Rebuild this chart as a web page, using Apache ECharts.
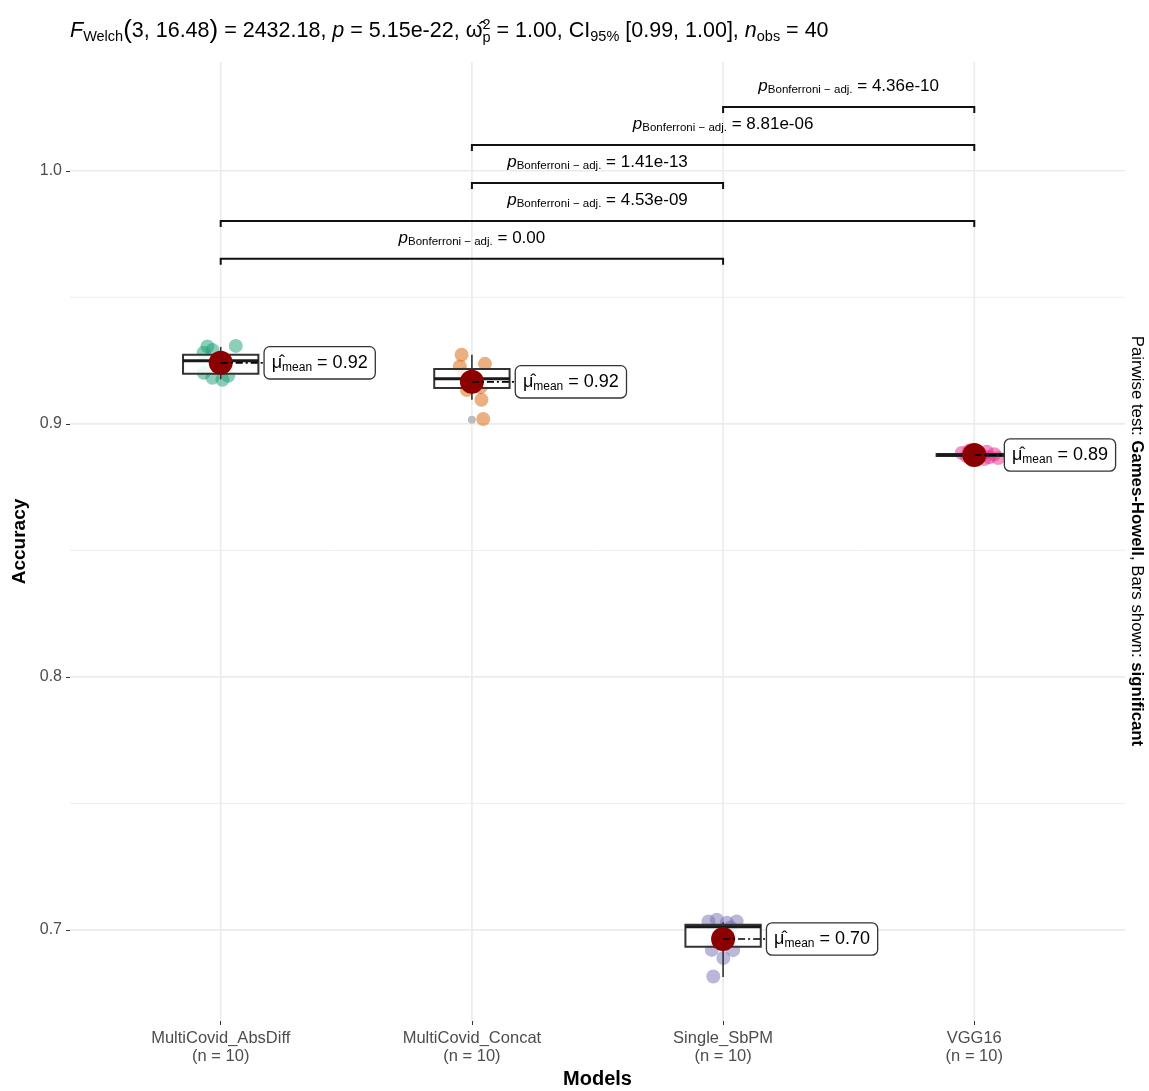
<!DOCTYPE html>
<html>
<head>
<meta charset="utf-8">
<script src="https://cdn.jsdelivr.net/npm/echarts@6/dist/echarts.min.js"></script>
<style>
html,body{margin:0;padding:0;background:#ffffff;}
#c{width:1149px;height:1091px;}
</style>
</head>
<body>
<div id="c"></div>
<script>
// ---------------- data ----------------
const categories = ['MultiCovid_AbsDiff', 'MultiCovid_Concat', 'Single_SbPM', 'VGG16'];
const groupN = [10, 10, 10, 10];
const yTicks = [0.7, 0.8, 0.9, 1.0];
const yMinor = [0.75, 0.85, 0.95];

const absDiffValues = [0.9306, 0.9308, 0.9281, 0.9292, 0.9235, 0.9230, 0.9202, 0.9190, 0.9182, 0.9174];
const absDiffJitter = [-0.053, 0.060, -0.068, -0.033, 0.020, -0.015, -0.068, 0.030, -0.033, 0.007];
const concatValues = [0.9273, 0.9237, 0.9227, 0.9195, 0.9175, 0.9160, 0.9145, 0.9134, 0.9095, 0.9019];
const concatJitter = [-0.041, 0.052, -0.048, -0.030, 0.020, -0.010, 0.035, -0.020, 0.038, 0.045];
const sbpmValues = [0.7040, 0.7033, 0.7033, 0.7028, 0.7010, 0.6950, 0.6921, 0.6920, 0.6889, 0.6816];
const sbpmJitter = [-0.025, -0.058, 0.054, 0.015, 0.030, -0.020, -0.045, 0.040, 0.001, -0.039];
const vggValues = [0.8895, 0.8890, 0.8885, 0.8880, 0.8878, 0.8876, 0.8872, 0.8868, 0.8865, 0.8861];
const vggJitter = [-0.020, 0.050, -0.050, 0.080, 0.000, 0.030, -0.030, 0.060, 0.095, 0.040];

const boxLow = [0.9176, 0.9095, 0.6814, 0.8866];
const boxQ1 = [0.9198, 0.9142, 0.6933, 0.8873];
const boxMedian = [0.9249, 0.9178, 0.7012, 0.8877];
const boxQ3 = [0.9273, 0.9217, 0.7020, 0.8881];
const boxHigh = [0.9304, 0.9273, 0.7030, 0.8890];

const outlierGroup = [1];
const outlierValues = [0.9016];

const means = [0.9241, 0.9166, 0.6964, 0.8877];
const meanLabels = ['0.92', '0.92', '0.70', '0.89'];

const sigStart = [0, 0, 1, 1, 2];
const sigEnd = [2, 3, 2, 3, 3];
const sigY = [0.9652, 0.9802, 0.9952, 1.0102, 1.0252];
const sigP = ['0.00', '4.53e-09', '1.41e-13', '8.81e-06', '4.36e-10'];

// ---------------- styling helpers ----------------
const FONT = '"Liberation Sans", Arial, sans-serif';
function rs(size, extra) {
  return Object.assign({ fontFamily: FONT, fontSize: size, color: '#1a1a1a' }, extra || {});
}
const pointColors = ['#1B9E77', '#D95F02', '#7570B3', '#E7298A'];
const groups = [
  { values: absDiffValues, jitter: absDiffJitter },
  { values: concatValues, jitter: concatJitter },
  { values: sbpmValues, jitter: sbpmJitter },
  { values: vggValues, jitter: vggJitter }
];

const chart = echarts.init(document.getElementById('c'), null, { renderer: 'canvas' });
const series = [];

// grid lines (horizontal)
series.push({
  type: 'custom', z: 0, silent: true,
  data: yTicks.map(v => [0, v, 1]).concat(yMinor.map(v => [0, v, 0])),
  renderItem: function (params, api) {
    const cs = params.coordSys;
    const y = api.coord([0, api.value(1)])[1];
    const major = api.value(2) === 1;
    return { type: 'line', shape: { x1: cs.x, y1: y, x2: cs.x + cs.width, y2: y },
      style: { stroke: '#EBEBEB', lineWidth: major ? 1.6 : 0.9 } };
  }
});
// grid lines (vertical)
series.push({
  type: 'custom', z: 0, silent: true,
  data: categories.map((c, i) => [i, 1]),
  renderItem: function (params, api) {
    const cs = params.coordSys;
    const x = api.coord([api.value(0), 1])[0];
    return { type: 'line', shape: { x1: x, y1: cs.y, x2: x, y2: cs.y + cs.height },
      style: { stroke: '#EBEBEB', lineWidth: 1.6 } };
  }
});

// jittered points
groups.forEach((g, gi) => {
  series.push({
    type: 'scatter', z: 2, silent: true, symbolSize: 14,
    itemStyle: { color: pointColors[gi], opacity: 0.5 },
    data: g.values.map((v, i) => [gi + g.jitter[i], v])
  });
});
// outliers
series.push({
  type: 'scatter', z: 2, silent: true, symbolSize: 8,
  itemStyle: { color: '#BDBDBD', opacity: 1 },
  data: outlierGroup.map((g, i) => [g, outlierValues[i]])
});

// boxes
series.push({
  type: 'custom', z: 3, silent: true,
  encode: { x: 0, y: [1, 2, 3, 4, 5] },
  data: categories.map((c, i) => [i, boxLow[i], boxQ1[i], boxMedian[i], boxQ3[i], boxHigh[i]]),
  renderItem: function (params, api) {
    const x = api.value(0);
    const hw = 0.15;
    const lo = api.coord([x, api.value(1)]);
    const q1 = api.coord([x + hw, api.value(2)]);
    const md = api.coord([x, api.value(3)]);
    const q3 = api.coord([x - hw, api.value(4)]);
    const hi = api.coord([x, api.value(5)]);
    const wStyle = { stroke: '#333333', lineWidth: 1.6 };
    return { type: 'group', children: [
      { type: 'line', shape: { x1: md[0], y1: hi[1], x2: md[0], y2: q3[1] }, style: wStyle },
      { type: 'line', shape: { x1: md[0], y1: q1[1], x2: md[0], y2: lo[1] }, style: wStyle },
      { type: 'rect', shape: { x: q3[0], y: q3[1], width: q1[0] - q3[0], height: q1[1] - q3[1] },
        style: { fill: 'rgba(255,255,255,0.85)', stroke: '#333333', lineWidth: 2 } },
      { type: 'line', shape: { x1: q3[0], y1: md[1], x2: q1[0], y2: md[1] },
        style: { stroke: '#1a1a1a', lineWidth: 3 } }
    ] };
  }
});

// means + labels
const meanRich = {
  mu: rs(18),
  sub: rs(12, { padding: [8, 0, 0, 0] }),
  t: rs(18)
};
series.push({
  type: 'custom', z: 4, silent: true,
  data: means.map((m, i) => [i, m]),
  renderItem: function (params, api) {
    const cs = params.coordSys;
    const c = api.coord([api.value(0), api.value(1)]);
    const lx = Math.min(c[0] + 44, cs.x + cs.width - 120);
    return { type: 'group', children: [
      { type: 'circle', shape: { cx: c[0], cy: c[1], r: 12 }, style: { fill: '#8B0000' } },
      { type: 'line', shape: { x1: c[0], y1: c[1], x2: lx, y2: c[1] },
        style: { stroke: '#000000', lineWidth: 1.6, lineDash: [7, 3, 2, 3] } },
      { type: 'text', x: lx, y: c[1],
        style: {
          text: '{mu|\u03BC\u0302}{sub|mean}{t| = ' + meanLabels[params.dataIndex] + '}',
          rich: meanRich, align: 'left', verticalAlign: 'middle',
          backgroundColor: '#ffffff', borderColor: '#333333', borderWidth: 1.3, borderRadius: 5,
          padding: [6, 7, 5, 7]
        } }
    ] };
  }
});

// significance bars
const sigRich = {
  p: rs(17, { fontStyle: 'italic' }),
  s: rs(11.5, { padding: [8, 0, 0, 0] }),
  t: rs(17)
};
series.push({
  type: 'custom', z: 4, silent: true,
  data: sigStart.map((s, i) => [s, sigY[i], sigEnd[i]]),
  renderItem: function (params, api) {
    const p1 = api.coord([api.value(0), api.value(1)]);
    const p2 = api.coord([api.value(2), api.value(1)]);
    const tk = 6;
    return { type: 'group', children: [
      { type: 'polyline', shape: { points: [[p1[0], p1[1] + tk], [p1[0], p1[1]], [p2[0], p2[1]], [p2[0], p2[1] + tk]] },
        style: { stroke: '#111111', lineWidth: 2, fill: 'none' } },
      { type: 'text', x: (p1[0] + p2[0]) / 2, y: p1[1] - 21,
        style: {
          text: '{p|p}{s|Bonferroni \u2212 adj.}{t| = ' + sigP[params.dataIndex] + '}',
          rich: sigRich, align: 'center', verticalAlign: 'middle'
        } }
    ] };
  }
});

const titleRich = {
  n: rs(21.5),
  i: rs(21.5, { fontStyle: 'italic' }),
  big: rs(26),
  sub: rs(14.5, { padding: [11, 0, 0, 0] }),
  sup: rs(14.5, { padding: [0, 0, 13, 0] }),
  subp: rs(14.5, { padding: [13, 0, 0, -8.06] })
};
const sideRich = {
  n: rs(16.8),
  b: rs(16.8, { fontWeight: 'bold' })
};

const option = {
  animation: false,
  backgroundColor: '#ffffff',
  textStyle: { fontFamily: FONT },
  grid: { left: 70, right: 24, top: 62, bottom: 70, containLabel: false, outerBoundsMode: 'none' },
  xAxis: {
    type: 'value', min: -0.6, max: 3.6,
    splitLine: { show: false },
    axisLine: { show: false, onZero: false },
    axisTick: { show: true, customValues: [0, 1, 2, 3], length: 4, lineStyle: { color: '#333333', width: 1 } },
    axisLabel: {
      customValues: [0, 1, 2, 3],
      formatter: function (v) { const i = Math.round(v); return categories[i] + '\n(n = ' + groupN[i] + ')'; },
      color: '#4D4D4D', fontSize: 16.5, lineHeight: 18, margin: 8, fontFamily: FONT
    },
    name: 'Models', nameLocation: 'middle', nameGap: 47,
    nameTextStyle: { fontWeight: 'bold', fontSize: 20, color: '#000000', fontFamily: FONT }
  },
  yAxis: {
    type: 'value', min: 0.664, max: 1.043,
    splitLine: { show: false },
    axisLine: { show: false, onZero: false },
    axisTick: { show: true, customValues: yTicks, length: 4, lineStyle: { color: '#333333', width: 1 } },
    axisLabel: {
      customValues: yTicks,
      formatter: function (v) { return v.toFixed(1); },
      color: '#4D4D4D', fontSize: 16, margin: 8, fontFamily: FONT
    },
    name: 'Accuracy', nameLocation: 'middle', nameGap: 40, nameRotate: 90,
    nameTextStyle: { fontWeight: 'bold', fontSize: 19, color: '#000000', fontFamily: FONT }
  },
  graphic: [
    { type: 'text', x: 70, y: 31, silent: true,
      style: {
        text: '{i|F}{sub|Welch}{big|(}{n|3, 16.48}{big|)}{n| = 2432.18, }{i|p}{n| = 5.15e-22, }{n|\u03C9\u0302}{sup|2}{subp|p}{n| = 1.00, CI}{sub|95%}{n| [0.99, 1.00], }{i|n}{sub|obs}{n| = 40}',
        rich: titleRich, align: 'left', verticalAlign: 'middle'
      } },
    { type: 'text', x: 1137, y: 541, rotation: -Math.PI / 2, silent: true,
      style: {
        text: '{n|Pairwise test: }{b|Games-Howell}{n|, Bars shown: }{b|significant}',
        rich: sideRich, align: 'center', verticalAlign: 'middle'
      } }
  ],
  series: series
};
chart.setOption(option);
</script>
</body>
</html>
